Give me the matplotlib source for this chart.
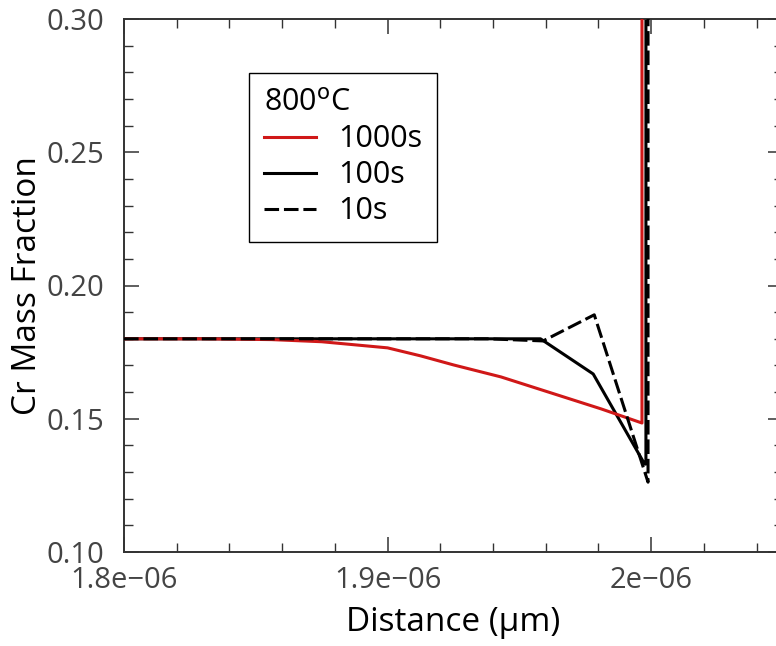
import matplotlib
matplotlib.use("Agg")
import matplotlib.pyplot as plt
from matplotlib.ticker import MultipleLocator, FuncFormatter

plt.rcParams['font.family'] = ['Open Sans', 'DejaVu Sans']
plt.rcParams['lines.scale_dashes'] = False

# Cr profiles across the interface at 800 C (distance in m, Cr mass fraction)
dist_1000s = [1.800e-6, 1.830e-6, 1.856e-6, 1.875e-6, 1.900e-6, 1.9125e-6, 1.925e-6,
              1.943e-6, 1.962e-6, 1.981e-6, 1.9965e-6, 1.9965e-6]
cr_1000s = [0.180, 0.180, 0.1797, 0.1789, 0.1766, 0.1736, 0.1702,
            0.1657, 0.1597, 0.1537, 0.1484, 0.600]

dist_100s = [1.800e-6, 1.958e-6, 1.978e-6, 1.9975e-6, 1.998e-6, 1.998e-6]
cr_100s = [0.180, 0.180, 0.1668, 0.133, 0.133, 0.600]

dist_10s = [1.800e-6, 1.938e-6, 1.959e-6, 1.9784e-6, 1.9988e-6, 1.9988e-6]
cr_10s = [0.180, 0.180, 0.1792, 0.189, 0.1262, 0.600]

temp_label = '800$^{\\mathrm{o}}$C'
xlim = (1.8e-6, 2.05e-6)
ylim = (0.10, 0.30)

fig = plt.figure(figsize=(7.76, 6.46), dpi=100)
# axes runs slightly past the right edge of the figure
ax = fig.add_axes([124 / 776, 94 / 646, 659 / 776, 533 / 646])

l100, = ax.plot(dist_100s, cr_100s, color='black', lw=2.2, zorder=2)
l1000, = ax.plot(dist_1000s, cr_1000s, color='#d01818', lw=2.2, zorder=3)
l10, = ax.plot(dist_10s, cr_10s, color='black', lw=2.2, zorder=4,
               linestyle=(0, (10.5, 3.5)))

ax.set_xlim(*xlim)
ax.set_ylim(*ylim)

ax.xaxis.set_major_locator(MultipleLocator(1e-7))
ax.xaxis.set_minor_locator(MultipleLocator(2e-8))
ax.yaxis.set_major_locator(MultipleLocator(0.05))
ax.yaxis.set_minor_locator(MultipleLocator(0.01))
ax.xaxis.set_major_formatter(FuncFormatter(lambda v, p: f"{v:g}".replace('-', '\u2212')))
ax.yaxis.set_major_formatter(FuncFormatter(lambda v, p: f"{v:.2f}"))

ax.tick_params(which='both', direction='in', top=True, right=True,
               color='#333333', labelcolor='#444444', labelsize=21)
ax.tick_params(which='major', length=10.8, width=1.1)
ax.tick_params(which='minor', length=6.5, width=1.0)
ax.tick_params(axis='x', which='major', pad=10)
ax.tick_params(axis='y', which='major', pad=14)
for sp in ax.spines.values():
    sp.set_color('#333333')
    sp.set_linewidth(1.4)

ax.set_xlabel('Distance (\u00b5m)', fontsize=24, labelpad=8)
ax.set_ylabel('Cr Mass Fraction', fontsize=24, labelpad=2)

leg = ax.legend([l1000, l100, l10], ['1000s', '100s', '10s'], title=temp_label,
                loc='upper left', bbox_to_anchor=(0.19, 0.899), borderaxespad=0,
                fontsize=22, title_fontsize=22, fancybox=False, framealpha=1,
                edgecolor='black', handlelength=1.7, handletextpad=0.7,
                labelspacing=0.2, alignment='left', borderpad=0.5)
leg.get_frame().set_linewidth(1.0)

fig.savefig('out.png', dpi=100)
